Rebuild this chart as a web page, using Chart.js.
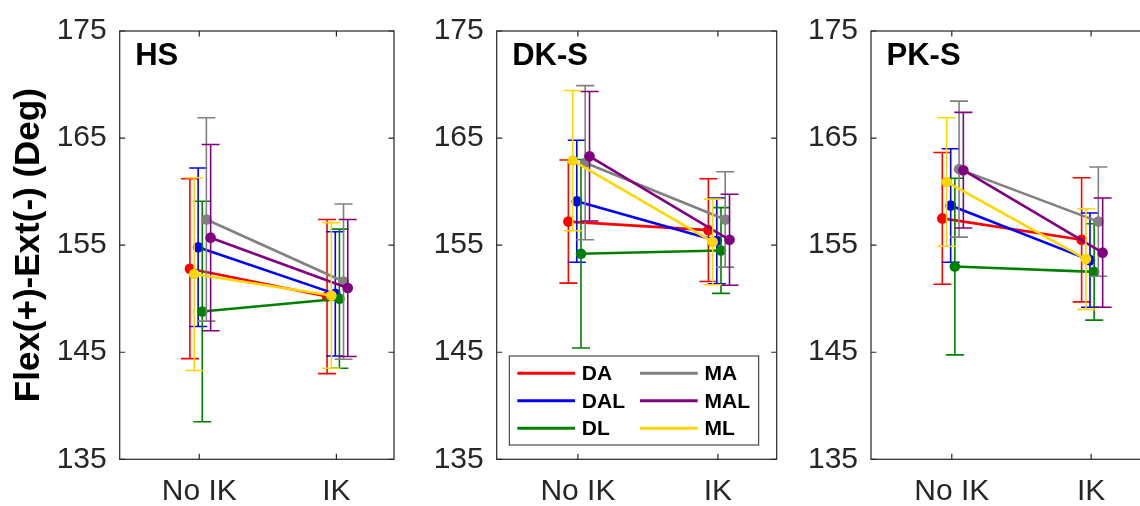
<!DOCTYPE html>
<html><head><meta charset="utf-8">
<script src="https://cdn.jsdelivr.net/npm/chart.js@4.4.0/dist/chart.umd.min.js"></script>
<style>
html,body{margin:0;padding:0;background:#fff;overflow:hidden;width:1140px;height:506px;position:relative;}
canvas{position:absolute;top:0;}
</style></head><body>
<canvas id="c0" style="left:0px" width="400" height="506"></canvas>
<canvas id="c1" style="left:400px" width="390" height="506"></canvas>
<canvas id="c2" style="left:790px" width="370" height="506"></canvas>
<script>
// ---- data ----
const categories = ['No IK', 'IK'];
const seriesNames = ['DA', 'DAL', 'DL', 'MA', 'MAL', 'ML'];
const seriesColors = ['#ff0000', '#0000ff', '#008000', '#808080', '#800080', '#ffd700'];
const xJitter = [-0.068, -0.008, 0.022, 0.052, 0.083, -0.037];
const yTicks = [135, 145, 155, 165, 175];
const panelTitles = ['HS', 'DK-S', 'PK-S'];
const yTitle = 'Flex(+)-Ext(-) (Deg)';

// means [series][No IK, IK]
const meanHS = [[152.8, 150.2], [154.8, 150.45], [148.8, 150.0], [157.4, 151.6], [155.7, 151.0], [152.3, 150.3]];
const errHS  = [[8.4, 7.2], [7.4, 5.8], [10.3, 6.5], [9.5, 7.25], [8.7, 6.4], [9.0, 6.8]];
const meanDKS = [[157.2, 156.4], [159.1, 155.4], [154.2, 154.5], [162.7, 157.4], [163.3, 155.5], [162.9, 155.3]];
const errDKS  = [[5.75, 4.8], [5.7, 4.0], [8.8, 4.0], [7.2, 4.45], [6.05, 4.25], [6.55, 4.0]];
const meanPKS = [[157.5, 155.5], [158.7, 153.6], [153.0, 152.5], [162.1, 157.2], [162.0, 154.3], [160.9, 153.7]];
const errPKS  = [[6.15, 5.8], [5.3, 4.4], [8.25, 4.5], [6.35, 5.1], [5.4, 5.1], [6.0, 4.7]];

const panelMeans = [meanHS, meanDKS, meanPKS];
const panelErrs = [errHS, errDKS, errPKS];

// ---- layout (not data) ----
const layouts = [
  {id: 'c0', width: 400, areaLeft: 119.7, areaRight: 394},
  {id: 'c1', width: 390, areaLeft: 96.7, areaRight: 376.7},
  {id: 'c2', width: 370, areaLeft: 81, areaRight: 359.6}
];
const AREA_TOP = 23, AREA_BOTTOM = 459.3, H = 506;
const AXIS_COLOR = '#262626';
const FONT = "'Liberation Sans', Arial, Helvetica, sans-serif";

const errorBarPlugin = {
  id: 'errorBars',
  beforeDatasetDraw(chart, args) {
    const ds = chart.data.datasets[args.index];
    if (!ds.errors) return;
    const ctx = chart.ctx, ys = chart.scales.y;
    ctx.save();
    ctx.strokeStyle = ds.borderColor;
    ctx.lineWidth = 1.6;
    args.meta.data.forEach((pt, i) => {
      const v = ds.data[i].y, e = ds.errors[i];
      const x = pt.x, y1 = ys.getPixelForValue(v + e), y2 = ys.getPixelForValue(v - e);
      ctx.beginPath();
      ctx.moveTo(x, y1); ctx.lineTo(x, y2);
      ctx.moveTo(x - 9, y1); ctx.lineTo(x + 9, y1);
      ctx.moveTo(x - 9, y2); ctx.lineTo(x + 9, y2);
      ctx.stroke();
    });
    ctx.restore();
  }
};

const framePlugin = {
  id: 'frame',
  afterDraw(chart, args, opts) {
    const ctx = chart.ctx, a = chart.chartArea;
    const xs = chart.scales.x, ys = chart.scales.y;
    ctx.save();
    ctx.strokeStyle = AXIS_COLOR;
    ctx.lineWidth = 1.2;
    ctx.strokeRect(a.left, a.top, a.right - a.left, a.bottom - a.top);
    ctx.beginPath();
    const tl = 5.5;
    ys.ticks.forEach(t => {
      const y = ys.getPixelForValue(t.value);
      ctx.moveTo(a.left, y); ctx.lineTo(a.left + tl, y);
      ctx.moveTo(a.right, y); ctx.lineTo(a.right - tl, y);
    });
    xs.ticks.forEach(t => {
      const x = xs.getPixelForValue(t.value);
      ctx.moveTo(x, a.bottom); ctx.lineTo(x, a.bottom - tl);
      ctx.moveTo(x, a.top); ctx.lineTo(x, a.top + tl);
    });
    ctx.stroke();
    // panel title
    ctx.fillStyle = '#000';
    ctx.font = 'bold 31px ' + FONT;
    ctx.textBaseline = 'alphabetic';
    ctx.textAlign = 'left';
    ctx.fillText(opts.title, a.left + 15.5, a.top + 34);
    ctx.restore();
  }
};

const boxLegendPlugin = {
  id: 'boxLegend',
  afterDraw(chart, args, opts) {
    if (!opts.display) return;
    const ctx = chart.ctx, a = chart.chartArea;
    const bw = 249.4, bh = 89;
    const bx = a.left + 12.6, by = a.bottom - 14.3 - bh;
    ctx.save();
    ctx.fillStyle = '#fff';
    ctx.fillRect(bx, by, bw, bh);
    ctx.strokeStyle = AXIS_COLOR;
    ctx.lineWidth = 1;
    ctx.strokeRect(bx, by, bw, bh);
    ctx.font = 'bold 21px ' + FONT;
    ctx.textBaseline = 'middle';
    ctx.textAlign = 'left';
    const rows = 3;
    chart.data.datasets.forEach((ds, i) => {
      const col = Math.floor(i / rows), row = i % rows;
      const y = by + 17.3 + row * 27.5;
      const lx = bx + 8 + col * 122.7;
      ctx.strokeStyle = ds.borderColor;
      ctx.lineWidth = 3;
      ctx.beginPath();
      ctx.moveTo(lx, y); ctx.lineTo(lx + 57.7, y);
      ctx.stroke();
      ctx.fillStyle = '#000';
      ctx.fillText(ds.label, lx + 64.5, y + 1);
    });
    ctx.restore();
  }
};

layouts.forEach((L, p) => {
  const means = panelMeans[p], errs = panelErrs[p];
  const datasets = seriesNames.map((name, s) => ({
    label: name,
    data: categories.map((c, k) => ({x: k + 1 + xJitter[s], y: means[s][k]})),
    errors: errs[s].slice(),
    borderColor: seriesColors[s],
    backgroundColor: seriesColors[s],
    borderWidth: 2.6,
    pointRadius: 5.3,
    pointBorderWidth: 0,
    pointHoverRadius: 5.3,
    showLine: true,
    fill: false,
    tension: 0,
    order: seriesNames.length - s
  }));
  new Chart(document.getElementById(L.id), {
    type: 'line',
    data: {datasets},
    plugins: [errorBarPlugin, framePlugin, boxLegendPlugin],
    options: {
      responsive: false,
      animation: false,
      events: [],
      layout: {padding: {left: 0, top: AREA_TOP, right: L.width - L.areaRight, bottom: 0}},
      plugins: {
        legend: {display: false},
        tooltip: {enabled: false},
        frame: {title: panelTitles[p]},
        boxLegend: {display: p === 1}
      },
      scales: {
        x: {
          type: 'linear', min: 0.42, max: 2.42,
          grid: {display: false, drawTicks: false},
          border: {display: false},
          afterBuildTicks: s => { s.ticks = categories.map((c, k) => ({value: k + 1})); },
          afterFit: s => { s.height = H - AREA_BOTTOM; },
          ticks: {
            autoSkip: false, maxRotation: 0, padding: 14,
            color: AXIS_COLOR, font: {family: FONT, size: 30},
            callback: (v, i) => categories[i]
          }
        },
        y: {
          type: 'linear', min: yTicks[0], max: yTicks[yTicks.length - 1],
          grid: {display: false, drawTicks: false},
          border: {display: false},
          afterBuildTicks: s => { s.ticks = yTicks.map(v => ({value: v})); },
          afterFit: s => { s.width = L.areaLeft; },
          ticks: {
            padding: 13, color: AXIS_COLOR, font: {family: FONT, size: 30},
            callback: v => String(v)
          },
          title: {
            display: p === 0, text: yTitle, color: '#000',
            font: {family: FONT, size: 35, weight: 'bold'},
            padding: {top: 8.2, bottom: 0}
          }
        }
      }
    }
  });
});
</script>
</body></html>
